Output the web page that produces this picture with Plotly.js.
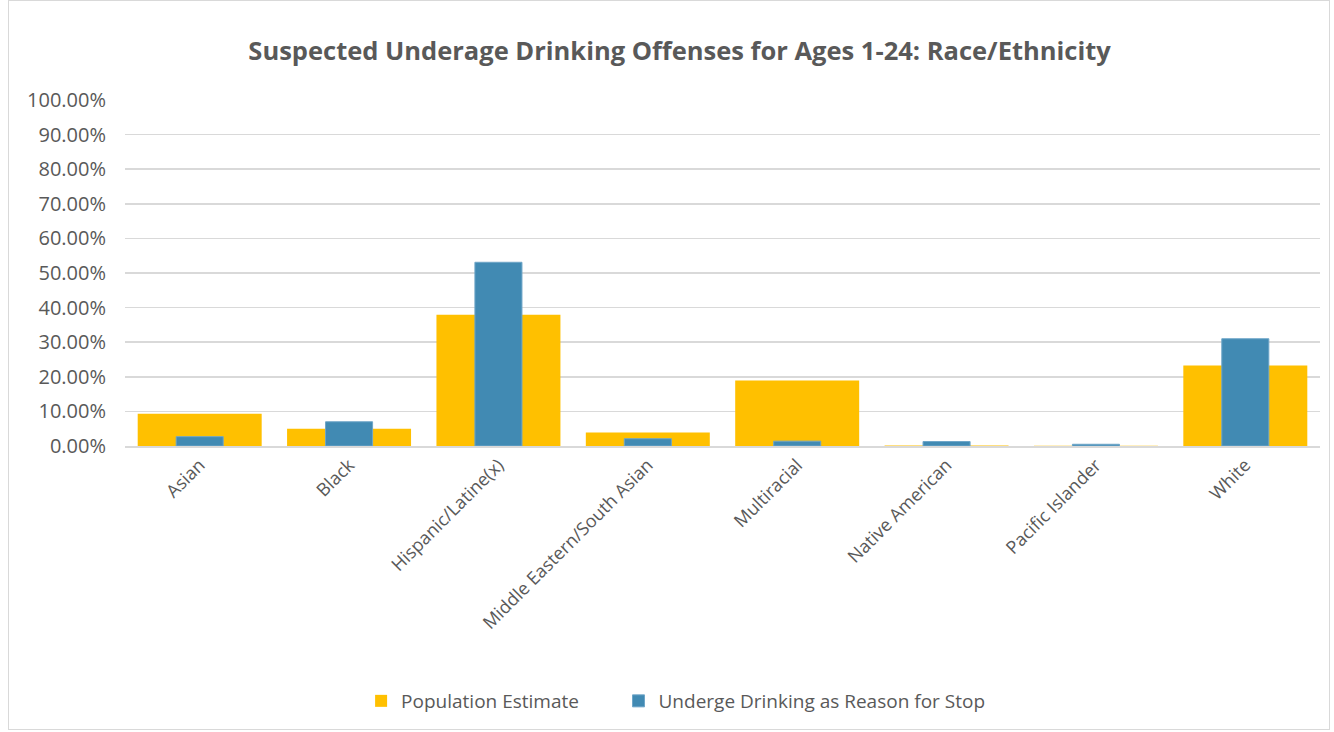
<!DOCTYPE html>
<html>
<head>
<meta charset="utf-8">
<script src="https://cdn.plot.ly/plotly-3.0.1.min.js"></script>
<style>
  html, body { margin: 0; padding: 0; background: #ffffff; }
  #frame { position: absolute; left: 8px; top: 0px; width: 1322px; height: 730px; border: 1px solid #d9d9d9; box-sizing: border-box; background: #fff; }
  #chart { width: 1320px; height: 728px; }
</style>
</head>
<body>
<div id="frame"><div id="chart"></div></div>
<script>
const categories = ["Asian", "Black", "Hispanic/Latine(x)", "Middle Eastern/South Asian", "Multiracial", "Native American", "Pacific Islander", "White"];
const populationEstimate = [0.093, 0.050, 0.379, 0.039, 0.189, 0.0015, 0.001, 0.233];
const drinkingReason = [0.027, 0.070, 0.531, 0.021, 0.014, 0.013, 0.005, 0.310];
const seriesNames = ["Population Estimate", "Underge Drinking as Reason for Stop"];

const traces = [
  {
    type: 'bar', x: categories, y: populationEstimate,
    name: seriesNames[0] + '\u00a0\u00a0\u00a0\u00a0\u00a0\u00a0\u00a0',
    width: 0.83, marker: { color: '#FFC000', line: { width: 0 } },
    hoverinfo: 'skip'
  },
  {
    type: 'bar', x: categories, y: drinkingReason, name: seriesNames[1],
    width: 0.315, marker: { color: '#418AB3', line: { width: 1, color: '#6fa6c8' } },
    hoverinfo: 'skip'
  }
];

const layout = {
  width: 1320, height: 728,
  margin: { l: 116, r: 9, t: 99, b: 283 },
  paper_bgcolor: '#ffffff', plot_bgcolor: '#ffffff',
  barmode: 'overlay',
  font: { family: '"Open Sans", sans-serif', color: '#595959', size: 16 },
  title: {
    text: '<b>Suspected Underage Drinking Offenses for Ages 1-24: Race/Ethnicity</b>',
    font: { family: '"Open Sans", sans-serif', size: 25.5, color: '#595959' },
    x: 0.508, xanchor: 'center', xref: 'container',
    y: 1 - 50 / 728, yanchor: 'middle', yref: 'container'
  },
  xaxis: {
    type: 'category', tickangle: -45, showgrid: false,
    showline: true, linecolor: '#d9d9d9', linewidth: 1.5,
    ticks: '', tickfont: { family: '"Open Sans", sans-serif', size: 18, color: '#595959' },
    range: [-0.5, 7.5], fixedrange: true
  },
  yaxis: {
    range: [0, 1], dtick: 0.1, tick0: 0, tickformat: '.2%',
    showgrid: true, gridcolor: '#d9d9d9', gridwidth: 1.5,
    zeroline: false, showline: false, ticks: '',
    tickfont: { family: '"Open Sans", sans-serif', size: 20, color: '#595959' },
    ticklabelstandoff: 18, fixedrange: true
  },
  showlegend: true,
  legend: {
    orientation: 'h', x: 0.505, xanchor: 'center', xref: 'container', y: 28 / 728, yref: 'container', yanchor: 'middle',
    font: { family: '"Open Sans", sans-serif', size: 19, color: '#595959' },
    itemwidth: 30, traceorder: 'normal'
  }
};

Plotly.newPlot('chart', traces, layout, { displayModeBar: false, staticPlot: true });
</script>
</body>
</html>
